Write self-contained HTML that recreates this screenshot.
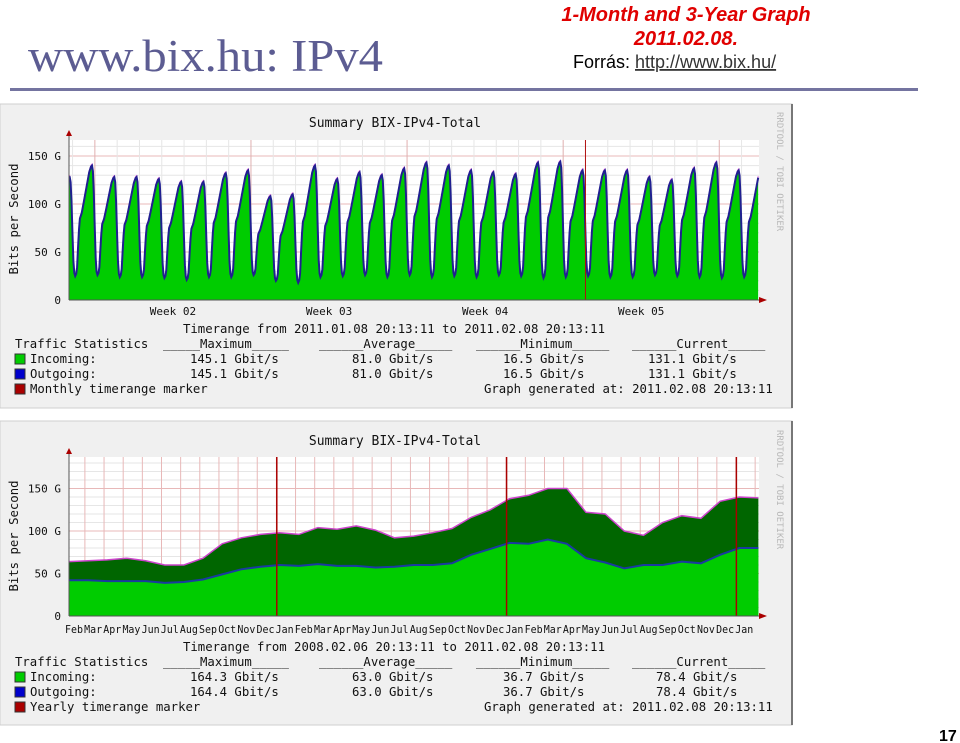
<!DOCTYPE html>
<html><head><meta charset="utf-8"><style>
html,body{margin:0;padding:0;background:#fff;}
svg{display:block;}
.m{font-family:"DejaVu Sans Mono","Liberation Mono",monospace;font-size:12.3px;fill:#111;}
</style></head><body>
<svg id="page" width="960" height="743" viewBox="0 0 960 743" xmlns="http://www.w3.org/2000/svg">
<text x="28" y="71" font-family="Liberation Serif, serif" font-size="45" fill="#5c5c92" textLength="355" lengthAdjust="spacingAndGlyphs">www.bix.hu: IPv4</text>
<text x="686" y="21" text-anchor="middle" font-family="Liberation Sans, sans-serif" font-size="20" font-weight="bold" font-style="italic" fill="#e00000">1-Month and 3-Year Graph</text>
<text x="686" y="45" text-anchor="middle" font-family="Liberation Sans, sans-serif" font-size="20" font-weight="bold" font-style="italic" fill="#e00000">2011.02.08.</text>
<text x="573" y="68" font-family="Liberation Sans, sans-serif" font-size="18" fill="#000">Forrás: <tspan fill="#333" text-decoration="underline">http://www.bix.hu/</tspan></text>
<rect x="10" y="88" width="908" height="3" fill="#7474a0"/>
<text x="939" y="741" font-family="Liberation Sans, sans-serif" font-size="16" font-weight="bold" fill="#000">17</text>

<g id="top">
<rect x="0" y="104" width="792" height="304" fill="#f0f0f0" stroke="#cfcfcf"/>
<line x1="792" y1="104" x2="792" y2="408" stroke="#777" stroke-width="2"/>
<rect x="69" y="140" width="690" height="160" fill="#fff"/>
<g id="tgrid"></g><g id="tdata"></g>
<text class="m" x="395" y="127" text-anchor="middle" style="font-size:13px">Summary BIX-IPv4-Total</text>
<text class="m" transform="translate(18,219) rotate(-90)" text-anchor="middle">Bits per Second</text>
<text class="m" transform="translate(777,112) rotate(90)" style="font-size:9px;fill:#b8b8b8">RRDTOOL / TOBI OETIKER</text>
<g id="taxis"></g>
<text class="m" x="183" y="333">Timerange from 2011.01.08 20:13:11 to 2011.02.08 20:13:11</text>
<text class="m" x="15" y="348">Traffic Statistics</text>
<text class="m" x="163" y="348">_____Maximum_____</text>
<text class="m" x="319" y="348">______Average_____</text>
<text class="m" x="476" y="348">______Minimum_____</text>
<text class="m" x="632" y="348">______Current_____</text>
<rect x="15" y="354" width="10" height="10" fill="#00cc00" stroke="#333"/>
<text class="m" x="30" y="363">Incoming:</text>
<text class="m" x="190" y="363">145.1 Gbit/s</text><text class="m" x="352" y="363">81.0 Gbit/s</text><text class="m" x="503" y="363">16.5 Gbit/s</text><text class="m" x="648" y="363">131.1 Gbit/s</text>
<rect x="15" y="369" width="10" height="10" fill="#0000cc" stroke="#333"/>
<text class="m" x="30" y="378">Outgoing:</text>
<text class="m" x="190" y="378">145.1 Gbit/s</text><text class="m" x="352" y="378">81.0 Gbit/s</text><text class="m" x="503" y="378">16.5 Gbit/s</text><text class="m" x="648" y="378">131.1 Gbit/s</text>
<rect x="15" y="384" width="10" height="10" fill="#aa0000" stroke="#333"/>
<text class="m" x="30" y="393">Monthly timerange marker</text>
<text class="m" x="484" y="393">Graph generated at: 2011.02.08 20:13:11</text>
</g>

<g id="bot">
<rect x="0" y="421" width="792" height="304" fill="#f0f0f0" stroke="#cfcfcf"/>
<line x1="792" y1="421" x2="792" y2="725" stroke="#777" stroke-width="2"/>
<rect x="69" y="457" width="690" height="159" fill="#fff"/>
<g id="bgrid"></g><g id="bdata"></g>
<text class="m" x="395" y="445" text-anchor="middle" style="font-size:13px">Summary BIX-IPv4-Total</text>
<text class="m" transform="translate(18,536) rotate(-90)" text-anchor="middle">Bits per Second</text>
<text class="m" transform="translate(777,430) rotate(90)" style="font-size:9px;fill:#b8b8b8">RRDTOOL / TOBI OETIKER</text>
<g id="baxis"></g>
<text class="m" x="183" y="651">Timerange from 2008.02.06 20:13:11 to 2011.02.08 20:13:11</text>
<text class="m" x="15" y="666">Traffic Statistics</text>
<text class="m" x="163" y="666">_____Maximum_____</text>
<text class="m" x="319" y="666">______Average_____</text>
<text class="m" x="476" y="666">______Minimum_____</text>
<text class="m" x="632" y="666">______Current_____</text>
<rect x="15" y="672" width="10" height="10" fill="#00cc00" stroke="#333"/>
<text class="m" x="30" y="681">Incoming:</text>
<text class="m" x="190" y="681">164.3 Gbit/s</text><text class="m" x="352" y="681">63.0 Gbit/s</text><text class="m" x="503" y="681">36.7 Gbit/s</text><text class="m" x="656" y="681">78.4 Gbit/s</text>
<rect x="15" y="687" width="10" height="10" fill="#0000cc" stroke="#333"/>
<text class="m" x="30" y="696">Outgoing:</text>
<text class="m" x="190" y="696">164.4 Gbit/s</text><text class="m" x="352" y="696">63.0 Gbit/s</text><text class="m" x="503" y="696">36.7 Gbit/s</text><text class="m" x="656" y="696">78.4 Gbit/s</text>
<rect x="15" y="702" width="10" height="10" fill="#aa0000" stroke="#333"/>
<text class="m" x="30" y="711">Yearly timerange marker</text>
<text class="m" x="484" y="711">Graph generated at: 2011.02.08 20:13:11</text>
</g>
</svg>
<script>
// ---- monthly chart data (Gbit/s), one per day ----
const dailyPeaks = [128,140,128,128,126,123,123,132,135,108,110,140,126,133,130,137,143,140,135,133,131,143,144,135,135,135,128,125,137,143,135,134];
const dailyTroughs = [25,26,24,24,23,21,24,24,26,20,18,24,25,26,24,26,24,25,24,26,25,23,24,25,24,24,26,25,24,23,24,25];
const weekLabels = ["Week 02","Week 03","Week 04","Week 05"];
const yTicksTop = [0,50,100,150];
// ---- yearly chart data (Gbit/s), one per month from Feb 2008 ----
const monthlyAvg = [42,42,41,41,41,39,40,43,49,55,58,60,59,61,59,59,57,58,60,60,62,72,79,86,85,90,85,68,63,56,60,60,64,62,72,80,80];
const monthlyMax = [64,65,66,68,65,60,60,68,85,92,96,98,96,104,102,106,101,92,94,98,103,116,125,138,142,150,150,122,120,100,95,110,118,115,135,140,139];
const monthLabels = ["Feb","Mar","Apr","May","Jun","Jul","Aug","Sep","Oct","Nov","Dec","Jan"];
const yTicksBot = [0,50,100,150];

const NS="http://www.w3.org/2000/svg";
function mk(parent,tag,attrs){const e=document.createElementNS(NS,tag);for(const k in attrs)e.setAttribute(k,attrs[k]);parent.appendChild(e);return e;}
const xT=t=>69+t*22.3, yT=v=>300-v*0.96;
const xB=t=>69+t*19.15, yB=v=>616-v*0.85;

const tg=document.getElementById('tgrid');
for(let v=10;v<=160;v+=10){const l=mk(tg,'line',{x1:69,x2:759,y1:yT(v),y2:yT(v),stroke:v%50?'#e6e6e6':'#e8b8b8','stroke-width':1});

}
for(let d=0;d<32;d++){const x=xT(d+0.16);if(x>759)break;const maj=(d-1)%7===0;const l=mk(tg,'line',{x1:x,x2:x,y1:140,y2:300,stroke:maj?'#e0b0b0':'#e6e6e6'});

}
const hrs=[0,1,2,3,4,5,6,7,8,9,10,11,13,15,18,21,23,24];
const frac=[1,0.95,0.75,0.42,0.15,0.03,0,0.02,0.08,0.25,0.42,0.52,0.57,0.66,0.8,0.94,0.99,1];
const pts=[];
for(let k=0;k<dailyPeaks.length-1;k++){
  const T=dailyTroughs[k];
  for(let i=0;i<hrs.length-1;i++){
    const t=k+0.03+hrs[i]/24; if(t>31)break;
    const P=hrs[i]<=6?dailyPeaks[k]:dailyPeaks[k+1];
    pts.push([xT(t),yT(T+frac[i]*(P-T))]);
  }
}
pts.unshift([xT(0),yT(dailyPeaks[0])]);
const tl=pts.filter(p=>p[0]<=759);
const td=document.getElementById('tdata');
const line=tl.map((p,i)=>(i?'L':'M')+p[0].toFixed(1)+','+p[1].toFixed(1)).join('');
const ta=mk(td,'path',{d:line+`L${tl[tl.length-1][0]},300L69,300Z`,fill:'#00cc00'});


const tm=mk(td,'path',{d:tl.map((p,i)=>(i?'L':'M')+p[0].toFixed(1)+','+(p[1]-1.5).toFixed(1)).join(''),fill:'none',stroke:'#e060e0','stroke-width':1});


const tb=mk(td,'path',{d:line,fill:'none',stroke:'#202090','stroke-width':2});


const tr=mk(td,'line',{x1:xT(23.16),x2:xT(23.16),y1:140,y2:300,stroke:'#b01010','stroke-width':1});


const tx=document.getElementById('taxis');
mk(tx,'line',{x1:69,x2:766,y1:300,y2:300,stroke:'#555'});
mk(tx,'line',{x1:69,x2:69,y1:300,y2:134,stroke:'#555'});
mk(tx,'path',{d:'M759,297L767,300L759,303Z',fill:'#aa0000'});
mk(tx,'path',{d:'M66,136L69,130L72,136Z',fill:'#aa0000'});
yTicksTop.forEach(v=>{const t=mk(tx,'text',{x:61,y:yT(v)+4,'text-anchor':'end',class:'m',style:'font-size:11px'});t.textContent=v?v+' G':'0';

});
weekLabels.forEach((w,i)=>{const t=mk(tx,'text',{x:xT(1.16+7*i+3.5),y:315,'text-anchor':'middle',class:'m',style:'font-size:11px'});t.textContent=w;

});

const bg=document.getElementById('bgrid');
for(let v=10;v<=180;v+=10){const l=mk(bg,'line',{x1:69,x2:759,y1:yB(v),y2:yB(v),stroke:v%50?'#e6e6e6':'#e8b8b8'});

}
for(let m=0;m<=36;m++){const x=xB(m-0.17);if(x<69)continue;const l=mk(bg,'line',{x1:x,x2:x,y1:457,y2:616,stroke:'#e8b8b8'});

}
const bd=document.getElementById('bdata');
const n=monthlyAvg.length;
const A=monthlyAvg.map((v,i)=>[xB(i*36/(n-1)),yB(v)]);
const M=monthlyMax.map((v,i)=>[xB(i*36/(n-1)),yB(v)]);
const toP=a=>a.map((p,i)=>(i?'L':'M')+p[0].toFixed(1)+','+p[1].toFixed(1)).join('');
const bm=mk(bd,'path',{d:toP(M)+`L${M[n-1][0]},616L69,616Z`,fill:'#006600'});


const ba=mk(bd,'path',{d:toP(A)+`L${A[n-1][0]},616L69,616Z`,fill:'#00cc00'});


const bml=mk(bd,'path',{d:toP(M),fill:'none',stroke:'#cc44cc','stroke-width':1.5});


const bal=mk(bd,'path',{d:toP(A),fill:'none',stroke:'#1a3aa0','stroke-width':2});


[10.85,22.85,34.85].forEach(t=>{const l=mk(bd,'line',{x1:xB(t),x2:xB(t),y1:457,y2:616,stroke:'#aa0000','stroke-width':1.5});

});
const bx=document.getElementById('baxis');
mk(bx,'line',{x1:69,x2:766,y1:616,y2:616,stroke:'#555'});
mk(bx,'line',{x1:69,x2:69,y1:616,y2:452,stroke:'#555'});
mk(bx,'path',{d:'M759,613L767,616L759,619Z',fill:'#aa0000'});
mk(bx,'path',{d:'M66,454L69,448L72,454Z',fill:'#aa0000'});
yTicksBot.forEach(v=>{const t=mk(bx,'text',{x:61,y:yB(v)+4,'text-anchor':'end',class:'m',style:'font-size:11px'});t.textContent=v?v+' G':'0';

});
for(let m=0;m<36;m++){const t=mk(bx,'text',{x:xB(m)-4,y:633,class:'m',style:'font-size:11px',textLength:18,lengthAdjust:'spacingAndGlyphs'});t.textContent=monthLabels[m%12];

}
</script>
</body></html>
